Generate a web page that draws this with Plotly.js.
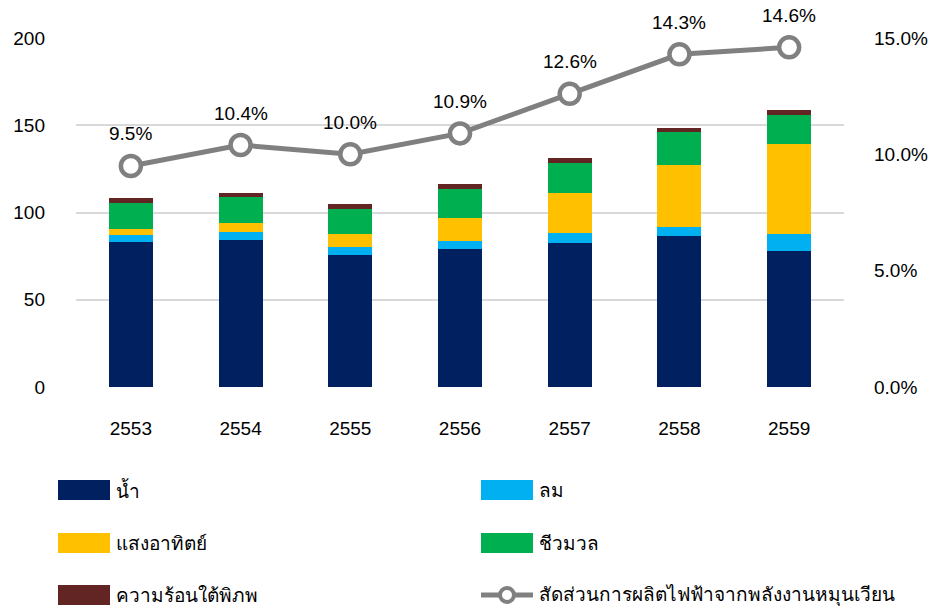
<!DOCTYPE html>
<html>
<head>
<meta charset="utf-8">
<script src="https://cdn.plot.ly/plotly-3.0.1.min.js"></script>
<style>html,body{margin:0;padding:0;background:#fff;}#chart{width:937px;height:608px;}</style>
</head>
<body>
<div id="chart"></div>
<script>
const years = ['2553','2554','2555','2556','2557','2558','2559'];
const hydro = [83.3, 84.4, 75.8, 79.1, 82.7, 86.5, 78.1];
const wind = [3.6, 4.4, 4.6, 4.7, 5.6, 5.4, 9.8];
const solar = [3.8, 5.0, 7.1, 13.0, 22.9, 35.3, 51.2];
const biomass = [14.9, 14.9, 14.5, 16.4, 17.2, 18.8, 16.8];
const geothermal = [2.7, 2.6, 2.7, 3.0, 2.7, 2.4, 2.7];
const share = [0.095, 0.104, 0.100, 0.109, 0.126, 0.143, 0.146];
const shareLabels = ['9.5%','10.4%','10.0%','10.9%','12.6%','14.3%','14.6%'];
const seriesNames = ['น้ำ','ลม','แสงอาทิตย์','ชีวมวล','ความร้อนใต้พิภพ','สัดส่วนการผลิตไฟฟ้าจากพลังงานหมุนเวียน'];
const colors = ['#002060','#00B0F0','#FFC000','#00B050','#632523','#808080'];

const FONT = 'Liberation Sans, Arial, sans-serif';
const FS = 19;
const barSeries = [hydro, wind, solar, biomass, geothermal];
const traces = barSeries.map((v, i) => ({
  type: 'bar', x: years, y: v, name: seriesNames[i],
  marker: {color: colors[i]}, width: 0.4, showlegend: false,
  hoverinfo: 'skip'
}));
traces.push({
  type: 'scatter', mode: 'lines+markers', x: years, y: share, yaxis: 'y2',
  name: seriesNames[5],
  line: {color: colors[5], width: 5},
  marker: {symbol: 'circle', size: 20, color: '#fff', line: {color: colors[5], width: 4.5}},
  cliponaxis: false, showlegend: false
});

const shapes = [], annotations = [];
// data labels above the line points (category index positions)
years.forEach((yr, i) => {
  annotations.push({x: i, y: share[i], xref: 'x', yref: 'y2', text: shareLabels[i],
    showarrow: false, yshift: 32, xanchor: 'center', yanchor: 'middle',
    font: {size: FS, color: '#000', family: FONT}});
});

// custom legend (3 rows x 2 columns)
const colX = [58, 481];
const rowY = [490, 543, 595];
seriesNames.forEach((n, i) => {
  const c = i % 2, r = Math.floor(i / 2);
  const x0 = colX[c], yc = rowY[r];
  if (i < 5) {
    shapes.push({type: 'rect', xref: 'paper', yref: 'paper',
      x0: (x0 - 76) / 768, x1: (x0 + 52 - 76) / 768,
      y0: (387 - (yc + 10)) / 349, y1: (387 - (yc - 10)) / 349,
      fillcolor: colors[i], line: {width: 0}});
  } else {
    shapes.push({type: 'line', xref: 'paper', yref: 'paper',
      x0: (x0 - 76) / 768, x1: (x0 + 52 - 76) / 768,
      y0: (387 - yc) / 349, y1: (387 - yc) / 349,
      line: {color: colors[5], width: 5}});
    shapes.push({type: 'circle', xref: 'paper', yref: 'paper',
      x0: (x0 + 26 - 7 - 76) / 768, x1: (x0 + 26 + 7 - 76) / 768,
      y0: (387 - (yc + 7)) / 349, y1: (387 - (yc - 7)) / 349,
      fillcolor: '#fff', line: {color: colors[5], width: 4}});
  }
  annotations.push({xref: 'paper', yref: 'paper', x: (x0 + 56 - 76) / 768, y: (387 - yc) / 349,
    xanchor: 'left', yanchor: 'middle', text: n, showarrow: false,
    font: {size: FS, color: '#000', family: FONT}});
});

const layout = {
  width: 937, height: 608,
  margin: {l: 76, r: 93, t: 38, b: 221},
  paper_bgcolor: '#fff', plot_bgcolor: '#fff',
  barmode: 'stack', bargap: 0.6,
  font: {family: FONT, size: FS, color: '#000'},
  showlegend: false,
  xaxis: {type: 'category', range: [-0.5, 6.5], showgrid: false, zeroline: false, showline: false, ticks: '',
    ticklabelstandoff: 28, tickfont: {size: FS}},
  yaxis: {range: [0, 200], dtick: 50, showgrid: true, gridcolor: '#d9d9d9', gridwidth: 2,
    zeroline: false, showline: false, ticks: '', ticklabelstandoff: 30, tickfont: {size: FS}},
  yaxis2: {overlaying: 'y', side: 'right', range: [0, 0.15], dtick: 0.05, tickformat: '.1%',
    showgrid: false, zeroline: false, showline: false, ticks: '', ticklabelstandoff: 29, tickfont: {size: FS}},
  shapes: shapes, annotations: annotations
};
Plotly.newPlot('chart', traces, layout, {displayModeBar: false, staticPlot: true});
</script>
</body>
</html>
